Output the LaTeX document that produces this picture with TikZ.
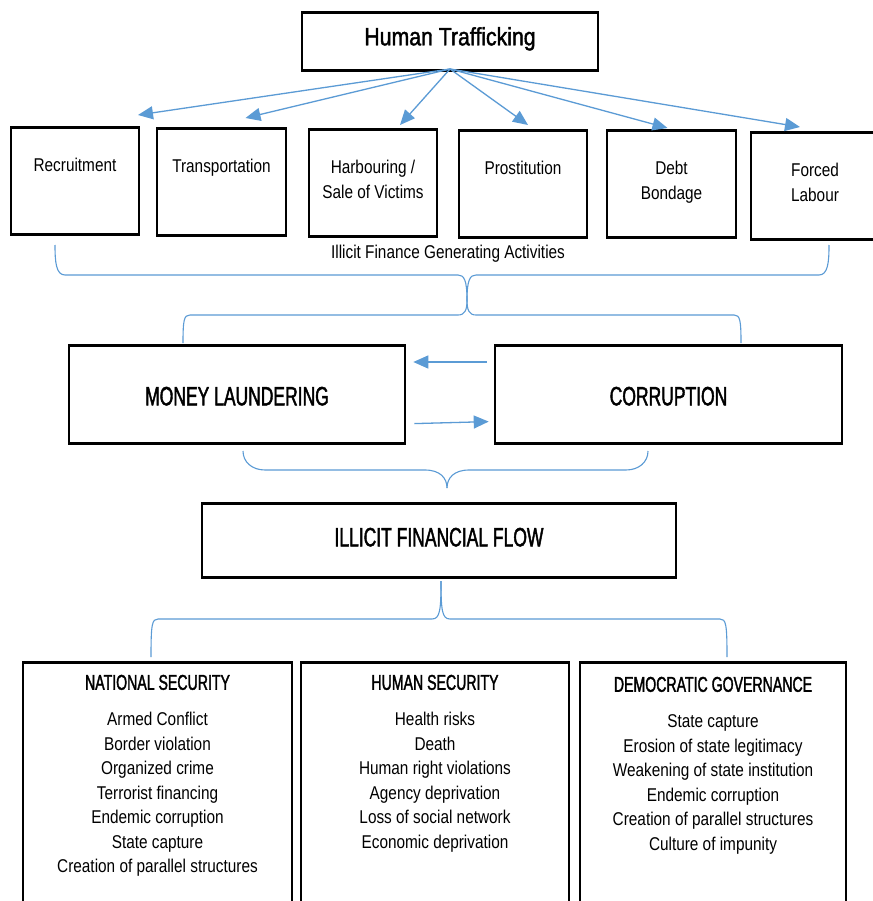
\documentclass[tikz,border=0pt]{standalone}
\usepackage{fontspec}
\setmainfont{Liberation Sans}
\newfontfamily\bodyfont[FakeStretch=0.83]{Liberation Sans}
\newfontfamily\capsfont[FakeStretch=0.66,FakeBold=1.6]{Liberation Sans}
\newfontfamily\titlefont[FakeStretch=0.85,FakeBold=1.6]{Liberation Sans}
\usetikzlibrary{arrows.meta,calc}
\definecolor{linkblue}{RGB}{91,155,213}
\tikzset{box/.style={draw,line width=2.6pt,inner sep=0pt,align=center,anchor=north}}
% two text lines: text height runs from the top to the last baseline
\tikzset{actbox/.style={box,minimum width=128pt,text height=69pt,text depth=38pt,
    font=\bodyfont\fontsize{18.5}{24.5}\selectfont}}
\tikzset{bigbox/.style={box,font=\capsfont\fontsize{26.5}{30}\selectfont}}
\tikzset{secbox/.style={box,text depth=100pt,
    font=\bodyfont\fontsize{18.5}{24.5}\selectfont}}
\tikzset{flow/.style={linkblue,line width=1.3pt,-{Triangle[length=15pt,width=13pt]}}}
\tikzset{brace/.style={linkblue,line width=1.1pt}}
\newcommand{\sechead}[1]{{\capsfont\fontsize{21.4}{24.5}\selectfont #1}\\[11.5pt]}

\begin{document}
\begin{tikzpicture}[x=1pt,y=-1pt]
    \fill[white] (0,0) rectangle (872,901);
    \useasboundingbox (0,0) rectangle (872,901);
    % top
    \node[box,minimum width=296pt,text height=33pt,text depth=25pt,
        font=\titlefont\fontsize{25}{30}\selectfont] (ht) at (450,11) {Human Trafficking};
    \coordinate (htfoot) at (450,69);
    % activities
    \node[actbox] (rec) at (75,126) {Recruitment\\~};
    \node[actbox,minimum width=129pt] (trans) at (221.5,127) {Transportation\\~};
    \node[actbox] (harb) at (373,128) {Harbouring /\\Sale of Victims};
    \node[actbox] (prost) at (523,129) {Prostitution\\~};
    \node[actbox,minimum width=129pt] (debt) at (671.5,129) {Debt\\Bondage};
    \node[actbox] (forced) at (815,131) {Forced\\Labour};
    \draw[flow] (htfoot) -- ([xshift=63pt,yshift=11pt]rec.north);
    \draw[flow] (htfoot) -- ([xshift=24pt,yshift=9pt]trans.north);
    \draw[flow] (htfoot) -- ([xshift=27pt,yshift=3pt]harb.north);
    \draw[flow] (htfoot) -- ([xshift=5pt,yshift=4pt]prost.north);
    \draw[flow] (htfoot) -- ([xshift=-4pt,yshift=1pt]debt.north);
    \draw[flow] (htfoot) -- ([xshift=-15pt,yshift=4pt]forced.north);
    % illicit finance brace
    \draw[brace] (55,245) .. controls (55,262) and (56,275) .. (65,275) -- (458,275)
        .. controls (464,275) and (467,280) .. (467,300);
    \draw[brace] (829,245) .. controls (829,262) and (828,275) .. (819,275) -- (476,275)
        .. controls (470,275) and (467,280) .. (467,300);
    \node[font=\bodyfont\fontsize{18.5}{24.5}\selectfont] (ifga) at (448,254) {Illicit Finance Generating Activities};
    \draw[brace] (467,300) .. controls (467,310) and (465,315) .. (458,315) -- (190,315)
        .. controls (184,315) and (183,320) .. (183,343);
    \draw[brace] (467,300) .. controls (467,310) and (469,315) .. (476,315) -- (734,315)
        .. controls (740,315) and (741,320) .. (741,343);
    % laundering and corruption
    \node[bigbox,minimum width=336pt,text height=60pt,text depth=38pt] (ml) at (237,344) {MONEY LAUNDERING};
    \node[bigbox,minimum width=347pt,text height=60pt,text depth=38pt] (corr) at (668.5,344) {CORRUPTION};
    \draw[flow] ([xshift=-7pt,yshift=-18pt]corr.north west) -- ([xshift=7pt,yshift=-18pt]ml.north east);
    \draw[flow] ([xshift=8pt,yshift=21pt]ml.south east) -- ([xshift=-5pt,yshift=23pt]corr.south west);
    \draw[brace] (243,451) .. controls (243,462) and (252,470) .. (265,470) -- (425,470)
        .. controls (440,470) and (447,478) .. (447,488);
    \draw[brace] (648,451) .. controls (648,462) and (639,470) .. (626,470) -- (469,470)
        .. controls (454,470) and (447,478) .. (447,488);
    % flow
    \node[bigbox,minimum width=474pt,text height=43pt,text depth=31pt] (iff) at (439,502) {ILLICIT FINANCIAL FLOW};
    \draw[brace] (441,581) .. controls (441,610) and (440,619) .. (432,619) -- (158,619)
        .. controls (152,619) and (151,624) .. (151,657);
    \draw[brace] (441,581) .. controls (441,610) and (442,619) .. (450,619) -- (720,619)
        .. controls (726,619) and (727,624) .. (727,657);
    % consequences
    \node[secbox,minimum width=269pt,text height=210.5pt] (natsec) at (157.5,661) {\sechead{NATIONAL SECURITY}
        Armed Conflict\\Border violation\\Organized crime\\Terrorist financing\\
        Endemic corruption\\State capture\\Creation of parallel structures};
    \node[secbox,minimum width=268pt,text height=186pt] (humsec) at (435,661) {\sechead{HUMAN SECURITY}
        Health risks\\Death\\Human right violations\\Agency deprivation\\
        Loss of social network\\Economic deprivation};
    \node[secbox,minimum width=266pt,text height=188pt] (demgov) at (713,661) {\sechead{DEMOCRATIC GOVERNANCE}
        State capture\\Erosion of state legitimacy\\Weakening of state institution\\
        Endemic corruption\\Creation of parallel structures\\Culture of impunity};
\end{tikzpicture}
\end{document}
